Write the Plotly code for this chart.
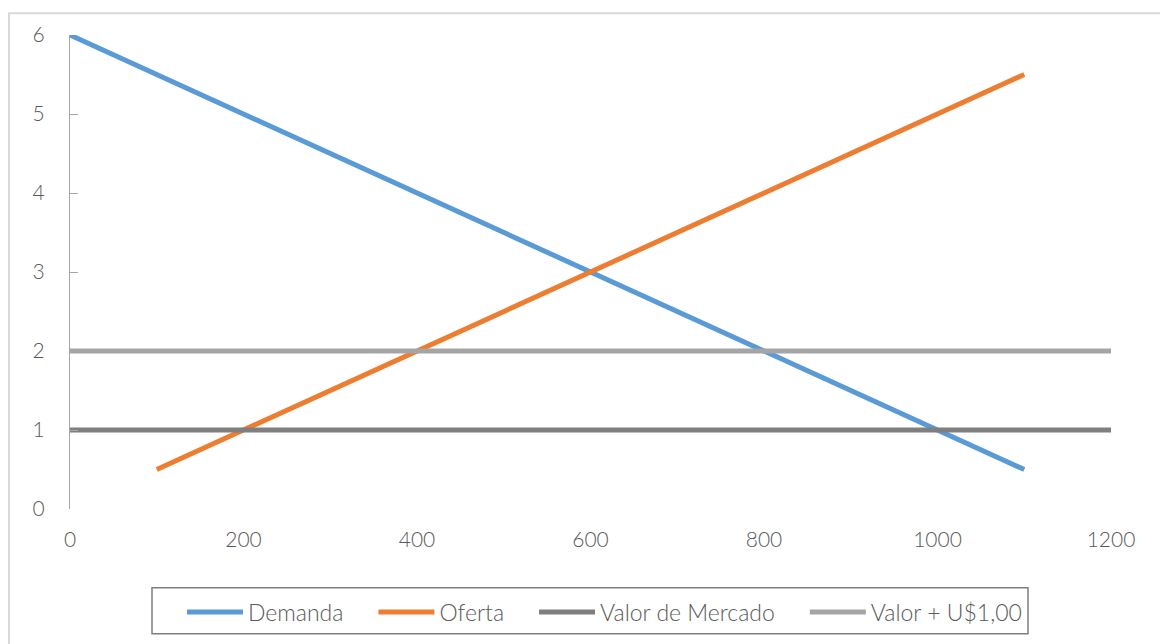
import plotly.graph_objects as go

# Data
demanda_x = [0, 100, 200, 300, 400, 500, 600, 700, 800, 900, 1000, 1100]
demanda_y = [6, 5.5, 5, 4.5, 4, 3.5, 3, 2.5, 2, 1.5, 1, 0.5]
oferta_x = [100, 200, 300, 400, 500, 600, 700, 800, 900, 1000, 1100]
oferta_y = [0.5, 1, 1.5, 2, 2.5, 3, 3.5, 4, 4.5, 5, 5.5]
valor_x = [0, 100, 200, 300, 400, 500, 600, 700, 800, 900, 1000, 1100, 1200]
valor_mercado_y = [1, 1, 1, 1, 1, 1, 1, 1, 1, 1, 1, 1, 1]
valor_mais_y = [2, 2, 2, 2, 2, 2, 2, 2, 2, 2, 2, 2, 2]
x_ticks = [0, 200, 400, 600, 800, 1000, 1200]
y_ticks = [0, 1, 2, 3, 4, 5, 6]
series_names = ["Demanda", "Oferta", "Valor de Mercado", "Valor + U$1,00"]

FONT = "Lato"
TXT = "#595959"
PAD = "\u00a0" * 4

fig = go.Figure()
series = [
    (series_names[0], demanda_x, demanda_y, "#5b9bd5"),
    (series_names[1], oferta_x, oferta_y, "#ed7d31"),
    (series_names[2], valor_x, valor_mercado_y, "#7f7f7f"),
    (series_names[3], valor_x, valor_mais_y, "#a5a5a5"),
]
for i, (name, xs, ys, col) in enumerate(series):
    label = name + (PAD if i < len(series) - 1 else "")
    fig.add_trace(go.Scatter(x=xs, y=ys, mode="lines", name=label,
                             line=dict(color=col, width=5),
                             cliponaxis=False))

fig.update_layout(
    width=1160, height=644,
    margin=dict(l=70, r=49, t=35, b=134),
    paper_bgcolor="white", plot_bgcolor="white",
    font=dict(family=FONT, color=TXT, size=21, weight=300),
    showlegend=True,
    legend=dict(orientation="h", x=0.1076, xanchor="left", y=-0.2147, yanchor="middle",
                borderwidth=0, itemwidth=56, bgcolor="rgba(0,0,0,0)",
                font=dict(family=FONT, size=23, color=TXT, weight=300),
                traceorder="normal"),
    xaxis=dict(range=[0, 1200], tickvals=x_ticks, showgrid=False, zeroline=False,
               showline=False, ticks="", ticklabelstandoff=16,
               tickfont=dict(family=FONT, size=21, color=TXT, weight=300)),
    yaxis=dict(range=[0, 6], tickvals=y_ticks, showgrid=False, zeroline=False,
               showline=True, linecolor="#a6a6a6", linewidth=1.2,
               ticks="inside", ticklen=8, tickcolor="#a6a6a6", tickwidth=1.2,
               ticklabelstandoff=20,
               tickfont=dict(family=FONT, size=21, color=TXT, weight=300)),
    shapes=[
        dict(type="rect", xref="paper", yref="paper",
             x0=-0.0586, x1=1.2, y0=-0.6, y1=1.046,
             line=dict(color="#d9d9d9", width=2), fillcolor="rgba(0,0,0,0)",
             layer="below"),
        dict(type="rect", xref="paper", yref="paper",
             x0=(152 - 70) / 1041, x1=(1028 - 70) / 1041,
             y0=(510 - 635) / 475, y1=(510 - 589) / 475,
             line=dict(color="#7f7f7f", width=1.5), fillcolor="rgba(0,0,0,0)",
             layer="below"),
    ],
)

fig.write_html("out.html")
